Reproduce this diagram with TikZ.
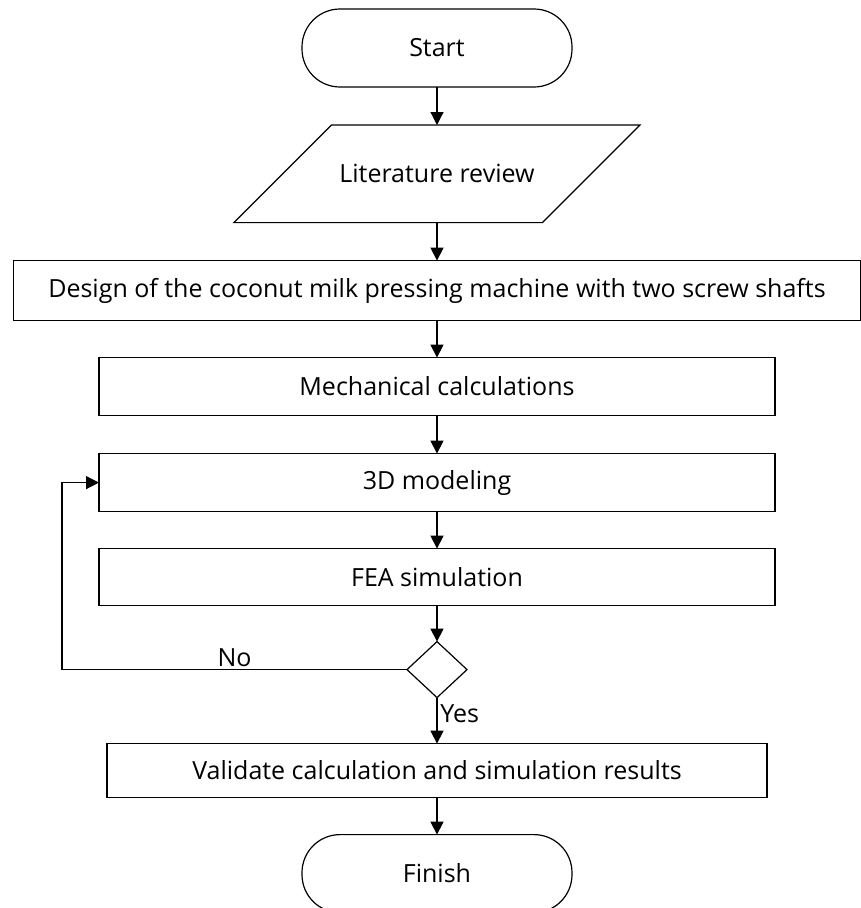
\documentclass[tikz,border=0pt]{standalone}
\usepackage{fontspec}
\setmainfont{Open Sans}
\usetikzlibrary{shapes.geometric,positioning,arrows.meta}

\begin{document}
\begin{tikzpicture}[
  >={Triangle[width=13pt,length=13pt]},
  x=1pt,y=1pt,
  line width=1.2pt,
  every node/.style={draw,align=center,outer sep=0pt,font=\fontsize{25}{30}\selectfont},
  node distance=37pt,
  terminal/.style={rectangle,rounded corners=38pt,minimum width=270pt,minimum height=78pt},
  process/.style={rectangle,minimum width=676pt,minimum height=58pt},
  io/.style={trapezium,trapezium left angle=45,trapezium right angle=135,
    trapezium stretches body,minimum width=406pt,inner ysep=39.5pt},
  decision/.style={diamond,minimum width=60pt,minimum height=56pt,inner sep=0pt},
  tag/.style={draw=none}
]
  \useasboundingbox (0,0) rectangle (861,-908);

  \node[terminal] (start) at (437,-48) {Start};
  \node[io,below=38pt of start] (review) {Literature review};
  \node[process,minimum width=847pt,minimum height=60pt,below=38pt of review] (design) {Design of the coconut milk pressing machine with two screw shafts};
  \node[process,below=of design] (calc) {Mechanical calculations};
  \node[process,below=38pt of calc] (model) {3D modeling};
  \node[process,minimum height=57pt,below=of model] (fea) {FEA simulation};
  \node[decision,below=36pt of fea] (check) {};
  \node[process,minimum width=660pt,minimum height=54pt,below=46pt of check] (valid) {Validate calculation and simulation results};
  \node[terminal,below=of valid] (finish) {Finish};

  \coordinate[left=37pt of model.west] (back);

  \draw[->] (start.south) -- (review.north);
  \draw[->] (review.south) -- (design.north);
  \draw[->] (design.south) -- (calc.north);
  \draw[->] (calc.south) -- (model.north);
  \draw[->] (model.south) -- (fea.north);
  \draw[->] (fea.south) -- (check.north);
  \draw[->] (check.west) -- node[tag,above]{No} (back |- check.west) -- (back) -- (model.west);
  \draw[->] (check.south) -- node[tag,right,pos=.35]{Yes} (valid.north);
  \draw[->] (valid.south) -- (finish.north);
\end{tikzpicture}
\end{document}
